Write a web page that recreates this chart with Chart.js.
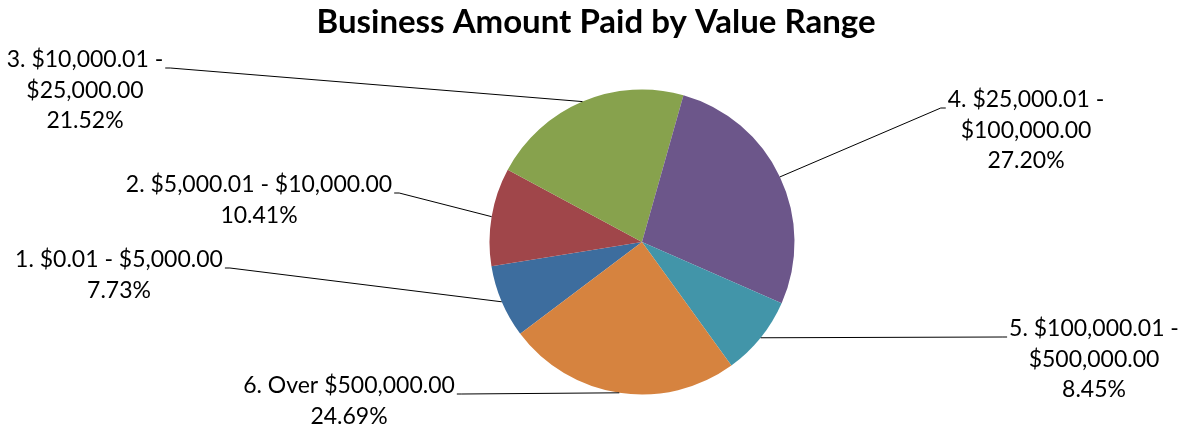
<!DOCTYPE html>
<html>
<head>
<meta charset="utf-8">
<script src="https://cdn.jsdelivr.net/npm/chart.js@4.4.1/dist/chart.umd.min.js"></script>
<style>
    html, body { margin: 0; padding: 0; background: #fff; }
    #chart-wrap { position: relative; width: 1182px; height: 427px; }
</style>
</head>
<body>
<div id="chart-wrap"><canvas id="value-range-pie"></canvas></div>
<script>
const chartTitle = 'Business Amount Paid by Value Range';
const categories = [
    '1. $0.01 - $5,000.00',
    '2. $5,000.01 - $10,000.00',
    '3. $10,000.01 - $25,000.00',
    '4. $25,000.01 - $100,000.00',
    '5. $100,000.01 - $500,000.00',
    '6. Over $500,000.00'
];
const percentValues = [7.73, 10.41, 21.52, 27.20, 8.45, 24.69];
const sliceColors = ['#3d6d9e', '#a0464a', '#87a24d', '#6c568a', '#4295a9', '#d6833f'];

// where each data label sits: block centre x, first baseline y, side the leader line leaves from
const labelLayout = [
    { x: 119, y: 267, side: 'right', wrap: false },
    { x: 259, y: 192, side: 'right', wrap: false },
    { x: 85, y: 67, side: 'right', wrap: true },
    { x: 1026, y: 107, side: 'left', wrap: true },
    { x: 1094, y: 336, side: 'left', wrap: true },
    { x: 349, y: 393, side: 'right', wrap: false }
];

const labelFont = '23px Lato';
const titleFont = 'bold 33px Lato';
const lineGap = 30.5;

// Excel wraps the long ranges after the dash
function splitLabel(text, wrap) {
    if (!wrap) return [text];
    const cut = text.indexOf(' - ');
    return [text.slice(0, cut + 2), text.slice(cut + 3)];
}

const leaderLabels = {
    id: 'leaderLabels',
    afterDatasetsDraw(chart) {
        const ctx = chart.ctx;
        const arcs = chart.getDatasetMeta(0).data;
        ctx.save();

        // title
        ctx.font = titleFont;
        ctx.fillStyle = '#000';
        ctx.textAlign = 'center';
        ctx.textBaseline = 'alphabetic';
        ctx.fillText(chartTitle, 596, 33);

        ctx.font = labelFont;
        ctx.strokeStyle = '#000';
        ctx.lineWidth = 1;

        arcs.forEach((arc, i) => {
            const pos = labelLayout[i];
            const lines = splitLabel(categories[i], pos.wrap);
            lines.push(percentValues[i].toFixed(2) + '%');
            lines.forEach((t, k) => ctx.fillText(t, pos.x, pos.y + k * lineGap));

            // leader line from first text line to the slice's mid point on the rim
            const w = ctx.measureText(lines[0]).width;
            const dir = pos.side === 'right' ? 1 : -1;
            const sx = pos.x + dir * (w / 2 + 2);
            const sy = pos.y + 1;
            const mid = (arc.startAngle + arc.endAngle) / 2;
            const ex = arc.x + Math.cos(mid) * arc.outerRadius;
            const ey = arc.y + Math.sin(mid) * arc.outerRadius;

            ctx.beginPath();
            ctx.moveTo(sx, sy);
            ctx.lineTo(sx + dir * 5, sy);
            ctx.lineTo(ex, ey);
            ctx.stroke();
        });

        ctx.restore();
    }
};

new Chart(document.getElementById('value-range-pie'), {
    type: 'pie',
    data: {
        labels: categories,
        datasets: [{
            data: percentValues,
            backgroundColor: sliceColors,
            borderWidth: 0
        }]
    },
    options: {
        responsive: true,
        maintainAspectRatio: false,
        animation: false,
        rotation: 233,
        layout: {
            padding: { left: 400, right: 298, top: 89.5, bottom: 32.5 }
        },
        plugins: {
            legend: { display: false },
            tooltip: { enabled: false },
            title: { display: false }
        }
    },
    plugins: [leaderLabels]
});
</script>
</body>
</html>
